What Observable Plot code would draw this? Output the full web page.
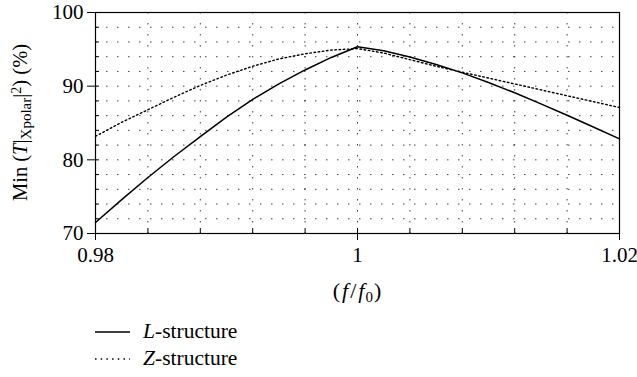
<!DOCTYPE html>
<html>
<head>
<meta charset="utf-8">
<script src="https://cdn.jsdelivr.net/npm/d3@7"></script>
<script src="https://cdn.jsdelivr.net/npm/@observablehq/plot@0.6"></script>
<style>
  html, body { margin: 0; padding: 0; background: #fff; }
  body { width: 637px; height: 377px; position: relative; overflow: hidden; font-family: "Liberation Serif", "DejaVu Serif", serif; color: #000; }
  #legend { position: absolute; left: 95px; top: 318px; font-size: 21.5px; }
  .row { display: flex; align-items: center; height: 27px; }
  .row svg { margin-right: 13px; }
  .row i { font-style: italic; }
</style>
</head>
<body>
<div id="chart"></div>
<div id="legend"></div>
<script>
// ---- data ----
const ratio = [0.980, 0.982, 0.984, 0.986, 0.988, 0.990, 0.992, 0.994, 0.996, 0.998, 1.000,
               1.002, 1.004, 1.006, 1.008, 1.010, 1.012, 1.014, 1.016, 1.018, 1.020];
const lStructure = [71.5, 74.6, 77.6, 80.45, 83.15, 85.8, 88.2, 90.3, 92.2, 93.9, 95.35,
                    94.8, 93.95, 92.95, 91.8, 90.5, 89.1, 87.6, 86.05, 84.45, 82.85];
const zStructure = [83.2, 85.1, 86.8, 88.5, 90.1, 91.5, 92.7, 93.7, 94.4, 94.9, 95.1,
                    94.5, 93.6, 92.7, 91.9, 91.1, 90.3, 89.5, 88.7, 87.9, 87.1];
const seriesNames = ["L-structure", "Z-structure"];
const xTickLabels = [0.98, 1, 1.02];
const xGridTicks = [0.984, 0.988, 0.992, 0.996, 1.0, 1.004, 1.008, 1.012, 1.016];
const yTickLabels = [70, 80, 90, 100];
const yGridTicks = [72, 74, 76, 78, 80, 82, 84, 86, 88, 90, 92, 94, 96, 98];
const xDomain = [0.98, 1.02];
const yDomain = [70, 100];

// ---- layout ----
const W = 637, H = 308;
const mL = 95, mR = 18, mT = 12, mB = 75;
const frameW = W - mL - mR, frameH = H - mT - mB;

const lData = ratio.map((x, i) => ({x, y: lStructure[i]}));
const zData = ratio.map((x, i) => ({x, y: zStructure[i]}));

const gridStyle = {stroke: "#000", strokeOpacity: 0.75, strokeWidth: 1, strokeDasharray: "1.5,9.5"};

const chart = Plot.plot({
  width: W, height: H,
  marginLeft: mL, marginRight: mR, marginTop: mT, marginBottom: mB,
  style: {fontFamily: "'Liberation Serif', 'DejaVu Serif', serif", fontSize: "21px", color: "#000", background: "#fff", overflow: "visible"},
  x: {domain: xDomain},
  y: {domain: yDomain},
  marks: [
    Plot.ruleX(xGridTicks, gridStyle),
    Plot.ruleY(yGridTicks, gridStyle),
    Plot.ruleX(xGridTicks, {stroke: "#000", strokeWidth: 1, insetTop: frameH - 5}),
    Plot.ruleY(yGridTicks, {stroke: "#000", strokeWidth: 1, insetRight: frameW - 4}),
    Plot.line(zData, {x: "x", y: "y", stroke: "#000", strokeWidth: 1.4, strokeDasharray: "1.6,2.6"}),
    Plot.line(lData, {x: "x", y: "y", stroke: "#000", strokeWidth: 1.5}),
    Plot.axisX(xTickLabels, {tickSize: 7, tickPadding: 7, tickFormat: d => String(d), label: null, fontSize: 21}),
    Plot.axisY(yTickLabels, {tickSize: 8, tickPadding: 4, tickFormat: d => String(d), label: null, fontSize: 21}),
    Plot.frame({stroke: "#000", strokeWidth: 1.2})
  ]
});
document.getElementById("chart").appendChild(chart);

// axis titles with italic, sub- and superscripts
const svg = d3.select(chart);
const yTitle = svg.append("text")
  .attr("transform", `translate(27,${mT + frameH / 2}) rotate(-90)`)
  .attr("text-anchor", "middle")
  .attr("font-size", 20.5)
  .attr("fill", "#000");
yTitle.append("tspan").text("Min (");
yTitle.append("tspan").attr("font-style", "italic").text("T");
yTitle.append("tspan").text("|");
yTitle.append("tspan").attr("font-size", 15).attr("baseline-shift", "-25%").text("Xpolar");
yTitle.append("tspan").text("|");
yTitle.append("tspan").attr("font-size", 14).attr("baseline-shift", "45%").text("2");
yTitle.append("tspan").text(") (%)");

const xTitle = svg.append("text")
  .attr("x", mL + frameW / 2)
  .attr("y", 298)
  .attr("text-anchor", "middle")
  .attr("font-size", 22)
  .attr("fill", "#000");
xTitle.append("tspan").text("(");
xTitle.append("tspan").attr("font-style", "italic").attr("dx", 2).text("f");
xTitle.append("tspan").attr("dx", 2).text("/");
xTitle.append("tspan").attr("font-style", "italic").attr("dx", 2).text("f");
xTitle.append("tspan").attr("font-size", 15).attr("baseline-shift", "-25%").attr("dx", 1).text("0");
xTitle.append("tspan").attr("dx", 1).text(")");

// legend
const legend = d3.select("#legend");
const dashes = [null, "1.5,4.2"];
seriesNames.forEach((name, i) => {
  const row = legend.append("div").attr("class", "row");
  const s = row.append("svg").attr("width", 35).attr("height", 10);
  s.append("line").attr("x1", 0).attr("x2", 35).attr("y1", 5).attr("y2", 5)
    .attr("stroke", "#000").attr("stroke-width", i === 0 ? 1.5 : 1.3)
    .attr("stroke-dasharray", dashes[i]);
  const [head, ...rest] = name.split("-");
  const t = row.append("span");
  t.append("i").text(head);
  t.append("span").text("-" + rest.join("-"));
});
</script>
</body>
</html>
